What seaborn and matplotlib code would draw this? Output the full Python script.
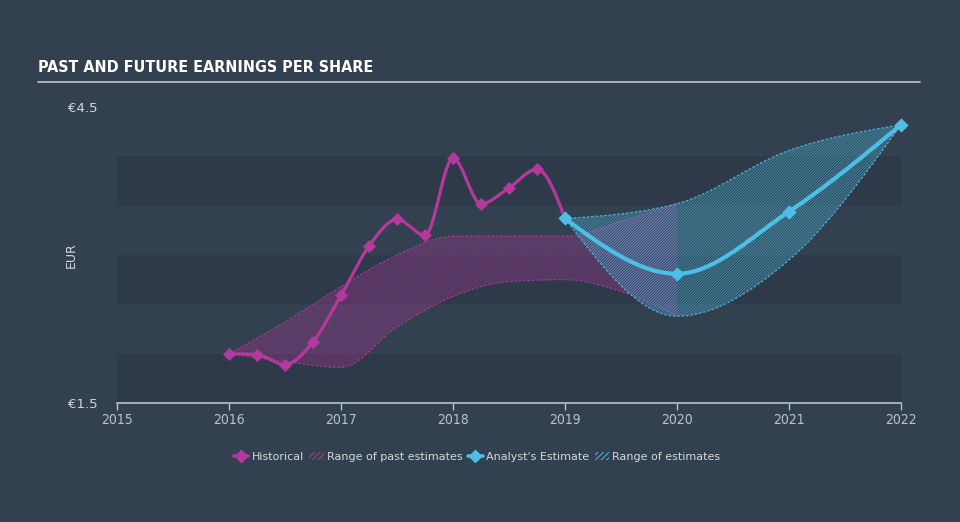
import numpy as np
import pandas as pd
import matplotlib
matplotlib.use("Agg")
import matplotlib.pyplot as plt
import seaborn as sns
from matplotlib.lines import Line2D
from matplotlib.patches import Patch

# --- data ---
hist_years = [2016.0, 2016.25, 2016.5, 2016.75, 2017.0, 2017.25, 2017.5,
              2017.75, 2018.0, 2018.25, 2018.5, 2018.75, 2019.0]
hist_eps = [2.00, 1.99, 1.89, 2.12, 2.59, 3.09, 3.36, 3.20, 3.98, 3.52, 3.68, 3.87, 3.37]

past_range_years = [2016.0, 2016.5, 2017.0, 2017.5, 2018.0, 2018.5, 2019.0, 2019.5, 2020.0]
past_range_low = [2.00, 1.92, 1.86, 2.27, 2.58, 2.73, 2.75, 2.63, 2.38]
past_range_high = [2.00, 2.32, 2.68, 3.00, 3.19, 3.19, 3.19, 3.34, 3.52]

fc_years = [2019, 2020, 2021, 2022]
fc_eps = [3.37, 2.81, 3.44, 4.32]
fc_low = [3.37, 2.38, 2.95, 4.32]
fc_high = [3.37, 3.52, 4.06, 4.32]

x_ticks = [2015, 2016, 2017, 2018, 2019, 2020, 2021, 2022]

BG = "#334050"
BAND = "#2e3a4a"
MAG = "#b5399c"
BLUE = "#4dbfe4"
TXT = "#d4d8dc"
AXC = "#b9c2cc"
NARROW = dict(family='DejaVu Sans', fontstretch='condensed')


def monotone(x, y, n=30):
    """d3 curveMonotoneX style smoothing (Steffen)."""
    x = np.asarray(x, float)
    y = np.asarray(y, float)
    h = np.diff(x)
    s = np.diff(y) / h
    m = np.zeros(len(x))
    for i in range(1, len(x) - 1):
        p = (s[i - 1] * h[i] + s[i] * h[i - 1]) / (h[i - 1] + h[i])
        m[i] = (np.sign(s[i - 1]) + np.sign(s[i])) * min(abs(s[i - 1]), abs(s[i]), 0.5 * abs(p))
    m[0] = (3 * s[0] - m[1]) / 2
    m[-1] = (3 * s[-1] - m[-2]) / 2
    xs, ys = [], []
    for i in range(len(x) - 1):
        t = np.linspace(0, 1, n, endpoint=False)
        h00 = 2 * t**3 - 3 * t**2 + 1
        h10 = t**3 - 2 * t**2 + t
        h01 = -2 * t**3 + 3 * t**2
        h11 = t**3 - t**2
        xs.append(x[i] + t * h[i])
        ys.append(h00 * y[i] + h10 * h[i] * m[i] + h01 * y[i + 1] + h11 * h[i] * m[i + 1])
    xs.append([x[-1]])
    ys.append([y[-1]])
    return np.concatenate(xs), np.concatenate(ys)


sns.set_theme(style="dark")
plt.rcParams['font.family'] = ['DejaVu Sans']
plt.rcParams['hatch.linewidth'] = 0.7

fig = plt.figure(figsize=(9.6, 5.22), dpi=100, facecolor=BG)
ax = fig.add_axes([117 / 960, 1 - 403 / 522, (901 - 117) / 960, (403 - 107) / 522])
ax.set_facecolor(BG)
ax.set_xlim(2015, 2022)
ax.set_ylim(1.5, 4.5)

# alternating background bands
for lo in [1.5, 2.5, 3.5]:
    ax.axhspan(lo, lo + 0.5, color=BAND, lw=0, zorder=0)

# past estimate range
px, plo = monotone(past_range_years, past_range_low)
_, phi = monotone(past_range_years, past_range_high)
ax.fill_between(px, plo, phi, facecolor=(0.71, 0.22, 0.61, 0.05),
                edgecolor=(0.71, 0.22, 0.61, 0.55), hatch='/' * 12, lw=0, zorder=1)
sns.lineplot(x=px, y=plo, ax=ax, color=MAG, lw=0.9, ls=(0, (2, 1.5)), alpha=0.8,
             sort=False, estimator=None, zorder=2)
sns.lineplot(x=px, y=phi, ax=ax, color=MAG, lw=0.9, ls=(0, (2, 1.5)), alpha=0.8,
             sort=False, estimator=None, zorder=2)

# forecast range
fx, flo = monotone(fc_years, fc_low)
_, fhi = monotone(fc_years, fc_high)
ax.fill_between(fx, flo, fhi, facecolor=(0.30, 0.75, 0.89, 0.08),
                edgecolor=(0.30, 0.75, 0.89, 0.55), hatch='/' * 12, lw=0, zorder=3)
sns.lineplot(x=fx, y=flo, ax=ax, color=BLUE, lw=0.9, ls=(0, (2, 1.5)), alpha=0.85,
             sort=False, estimator=None, zorder=4)
sns.lineplot(x=fx, y=fhi, ax=ax, color=BLUE, lw=0.9, ls=(0, (2, 1.5)), alpha=0.85,
             sort=False, estimator=None, zorder=4)

# historical line
hx, hy = monotone(hist_years, hist_eps)
sns.lineplot(x=hx, y=hy, ax=ax, color=MAG, lw=2.3, sort=False, estimator=None, zorder=5)
sns.scatterplot(x=hist_years[:-1], y=hist_eps[:-1], ax=ax, marker='D', s=38,
                color=MAG, edgecolor=MAG, zorder=6, clip_on=False)

# analyst estimate line
ex, ey = monotone(fc_years, fc_eps)
sns.lineplot(x=ex, y=ey, ax=ax, color=BLUE, lw=3.0, sort=False, estimator=None, zorder=7)
sns.scatterplot(x=fc_years, y=fc_eps, ax=ax, marker='D', s=45,
                color=BLUE, edgecolor=BLUE, zorder=8, clip_on=False)

# axes styling
for sp in ["top", "right", "left"]:
    ax.spines[sp].set_visible(False)
ax.spines["bottom"].set_color(AXC)
ax.spines["bottom"].set_linewidth(1.2)
ax.set_xticks(x_ticks)
ax.set_xticklabels([str(v) for v in x_ticks], fontsize=10, color=AXC, **NARROW)
ax.tick_params(axis='x', direction='out', length=5, width=1, color=AXC, pad=2, bottom=True)
ax.set_yticks([1.5, 4.5])
ax.set_yticklabels(["€1.5", "€4.5"], fontsize=9.5, color=TXT)
ax.tick_params(axis='y', length=0, pad=14)
ax.grid(False)
ax.set_xlabel("")
ax.set_ylabel("EUR", fontsize=9, color=TXT)
ax.yaxis.set_label_coords(-0.05, 0.5)

# title + underline
fig.text(38 / 960, 1 - 68 / 522, "PAST AND FUTURE EARNINGS PER SHARE", fontsize=11.5,
         fontweight='bold', color='white', va='center', ha='left', **NARROW)
fig.add_artist(Line2D([38 / 960, 920 / 960], [1 - 82 / 522, 1 - 82 / 522],
                      color="#c3c8ce", lw=1.2))

# legend
handles = [
    Line2D([0], [0], color=MAG, lw=2.6, marker='D', markersize=6),
    Patch(facecolor='none', edgecolor=MAG, hatch='/' * 6, lw=0),
    Line2D([0], [0], color=BLUE, lw=2.6, marker='D', markersize=6),
    Patch(facecolor='none', edgecolor=BLUE, hatch='/' * 6, lw=0),
]
labels = ["Historical", "Range of past estimates", "Analyst's Estimate", "Range of estimates"]
fig.legend(handles, labels, loc='center', bbox_to_anchor=(0.497, 1 - 457 / 522), ncol=4,
           frameon=False, fontsize=8, labelcolor=TXT, handlelength=1.3, handletextpad=0.3,
           columnspacing=0.5, handleheight=0.8)

fig.savefig("out.png", dpi=100, facecolor=BG)
